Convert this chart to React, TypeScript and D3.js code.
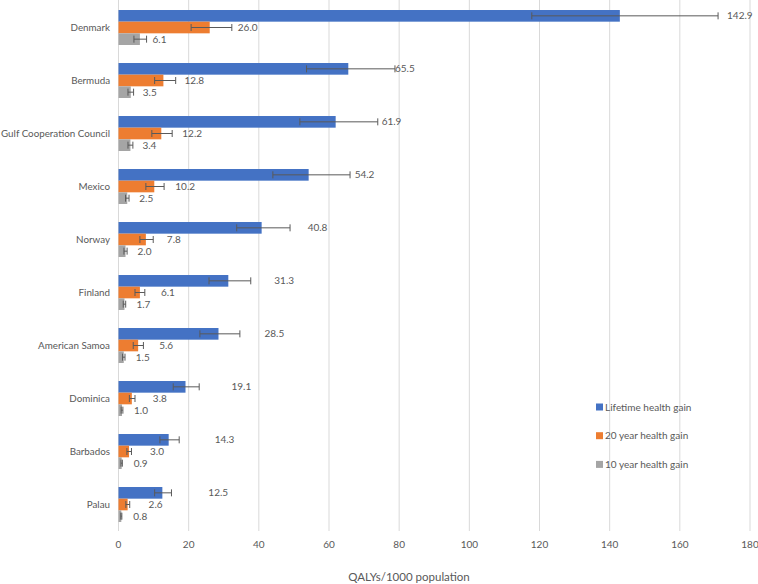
import { useEffect, useRef } from "react";
import * as d3 from "d3";

const countries = [
  "Denmark",
  "Bermuda",
  "Gulf Cooperation Council",
  "Mexico",
  "Norway",
  "Finland",
  "American Samoa",
  "Dominica",
  "Barbados",
  "Palau",
];

const lifetime = [142.9, 65.5, 61.9, 54.2, 40.8, 31.3, 28.5, 19.1, 14.3, 12.5];
const lifetimeLow = [25.1, 11.9, 10.2, 10.2, 7.1, 5.5, 5.3, 3.5, 2.5, 2.2];
const lifetimeHigh = [28.0, 13.3, 12.0, 11.8, 8.1, 6.4, 6.1, 3.9, 3.0, 2.6];
const year20 = [26.0, 12.8, 12.2, 10.2, 7.8, 6.1, 5.6, 3.8, 3.0, 2.6];
const year20Low = [5.3, 2.5, 2.7, 2.4, 1.7, 1.4, 1.4, 0.7, 0.6, 0.5];
const year20High = [6.3, 3.5, 3.1, 2.8, 2.1, 1.4, 1.5, 0.9, 0.7, 0.6];
const year10 = [6.1, 3.5, 3.4, 2.5, 2.0, 1.7, 1.5, 1.0, 0.9, 0.8];
const year10Low = [1.7, 0.8, 0.7, 0.5, 0.45, 0.35, 0.35, 0.25, 0.2, 0.15];
const year10High = [1.9, 0.8, 0.7, 0.5, 0.45, 0.35, 0.35, 0.25, 0.2, 0.15];

const seriesNames = ["Lifetime health gain", "20 year health gain", "10 year health gain"];
const xTicks = [0, 20, 40, 60, 80, 100, 120, 140, 160, 180];

const colors = ["#4472C4", "#ED7D31", "#A5A5A5"];
const labelOffsets = [46, 21, 12];
const labelGaps = [9, 6, 6];
const FONT = "Lato, 'Open Sans', sans-serif";
const TEXT = "#595959";

const W = 758;
const H = 584;

const App = () => {
  const ref = useRef<SVGSVGElement | null>(null);

  useEffect(() => {
    const svg = d3.select(ref.current);
    svg.selectAll("*").remove();

    const margin = { top: 1, right: 8, bottom: 53, left: 118.5 };

    const x = d3
      .scaleLinear()
      .domain([0, 180])
      .range([margin.left, W - margin.right]);

    const y = d3
      .scaleBand<string>()
      .domain(countries)
      .range([margin.top, H - margin.bottom])
      .paddingInner(0.34)
      .paddingOuter(0.17);

    const inner = d3
      .scaleBand<number>()
      .domain([0, 1, 2])
      .range([0, y.bandwidth()]);

    // gridlines
    svg
      .append("g")
      .selectAll("line")
      .data(xTicks)
      .join("line")
      .attr("x1", (d) => x(d))
      .attr("x2", (d) => x(d))
      .attr("y1", 0)
      .attr("y2", H - margin.bottom)
      .attr("stroke", "#d9d9d9")
      .attr("stroke-width", 1);

    // tick labels
    svg
      .append("g")
      .selectAll("text")
      .data(xTicks)
      .join("text")
      .attr("x", (d) => x(d))
      .attr("y", 544)
      .attr("dy", "0.35em")
      .attr("text-anchor", "middle")
      .attr("font-family", FONT)
      .attr("font-size", 10)
      .attr("fill", TEXT)
      .text((d) => d);

    // category labels
    svg
      .append("g")
      .selectAll("text")
      .data(countries)
      .join("text")
      .attr("x", 110)
      .attr("y", (d) => y(d)! + y.bandwidth() / 2)
      .attr("dy", "0.35em")
      .attr("text-anchor", "end")
      .attr("font-family", FONT)
      .attr("font-size", 9.8)
      .attr("fill", TEXT)
      .text((d) => d);

    const series = [
      { vals: lifetime, lo: lifetimeLow, hi: lifetimeHigh },
      { vals: year20, lo: year20Low, hi: year20High },
      { vals: year10, lo: year10Low, hi: year10High },
    ];

    series.forEach((s, si) => {
      const rows = countries.map((c, i) => ({ c, v: s.vals[i], lo: s.lo[i], hi: s.hi[i] }));
      const g = svg.append("g");
      const yc = (c: string) => y(c)! + inner(si)! + inner.bandwidth() / 2;

      g.selectAll("rect")
        .data(rows)
        .join("rect")
        .attr("x", x(0))
        .attr("y", (d) => y(d.c)! + inner(si)!)
        .attr("width", (d) => x(d.v) - x(0))
        .attr("height", inner.bandwidth())
        .attr("fill", colors[si]);

      // error bars
      const eb = g.append("g").attr("stroke", "#5a5a5a").attr("stroke-width", 1);
      eb.selectAll("line")
        .data(rows)
        .join("line")
        .attr("x1", (d) => x(Math.max(0, d.v - d.lo)))
        .attr("x2", (d) => x(d.v + d.hi))
        .attr("y1", (d) => yc(d.c))
        .attr("y2", (d) => yc(d.c));
      const ends = [(d: any) => d.v - d.lo, (d: any) => d.v + d.hi];
      ends.forEach((f) => {
        eb.append("g")
          .selectAll("line")
          .data(rows)
          .join("line")
          .attr("x1", (d) => x(Math.max(0, f(d))))
          .attr("x2", (d) => x(Math.max(0, f(d))))
          .attr("y1", (d) => yc(d.c) - 3.5)
          .attr("y2", (d) => yc(d.c) + 3.5);
      });

      // value labels
      const labelX = (d: { v: number; hi: number }) => {
        const natural = x(d.v) + labelOffsets[si];
        const cap = x(d.v + d.hi);
        if (natural < cap - 8) return cap + labelGaps[si];
        return Math.max(natural, cap + (si === 0 ? 0 : labelGaps[si]));
      };
      g.selectAll("text")
        .data(rows)
        .join("text")
        .attr("x", labelX)
        .attr("y", (d) => yc(d.c))
        .attr("dy", "0.35em")
        .attr("font-family", FONT)
        .attr("font-size", 10)
        .attr("fill", TEXT)
        .text((d) => d.v.toFixed(1));
    });

    // legend
    const legend = svg
      .append("g")
      .selectAll("g")
      .data(seriesNames)
      .join("g")
      .attr("transform", (_, i) => `translate(596,${407 + i * 28.7})`);
    legend
      .append("rect")
      .attr("x", 0)
      .attr("y", -3.5)
      .attr("width", 7)
      .attr("height", 7)
      .attr("fill", (_, i) => colors[i]);
    legend
      .append("text")
      .attr("x", 9)
      .attr("y", 0)
      .attr("dy", "0.35em")
      .attr("font-family", FONT)
      .attr("font-size", 10)
      .attr("fill", TEXT)
      .text((d) => d);

    // axis title
    svg
      .append("text")
      .attr("x", 409)
      .attr("y", 577)
      .attr("dy", "0.35em")
      .attr("text-anchor", "middle")
      .attr("font-family", FONT)
      .attr("font-size", 11.5)
      .attr("fill", TEXT)
      .text("QALYs/1000 population");
  }, []);

  return (
    <svg
      ref={ref}
      width={W}
      height={H}
      style={{ position: "absolute", left: 0, top: 0, background: "#fff", display: "block" }}
    />
  );
};

export default App;
